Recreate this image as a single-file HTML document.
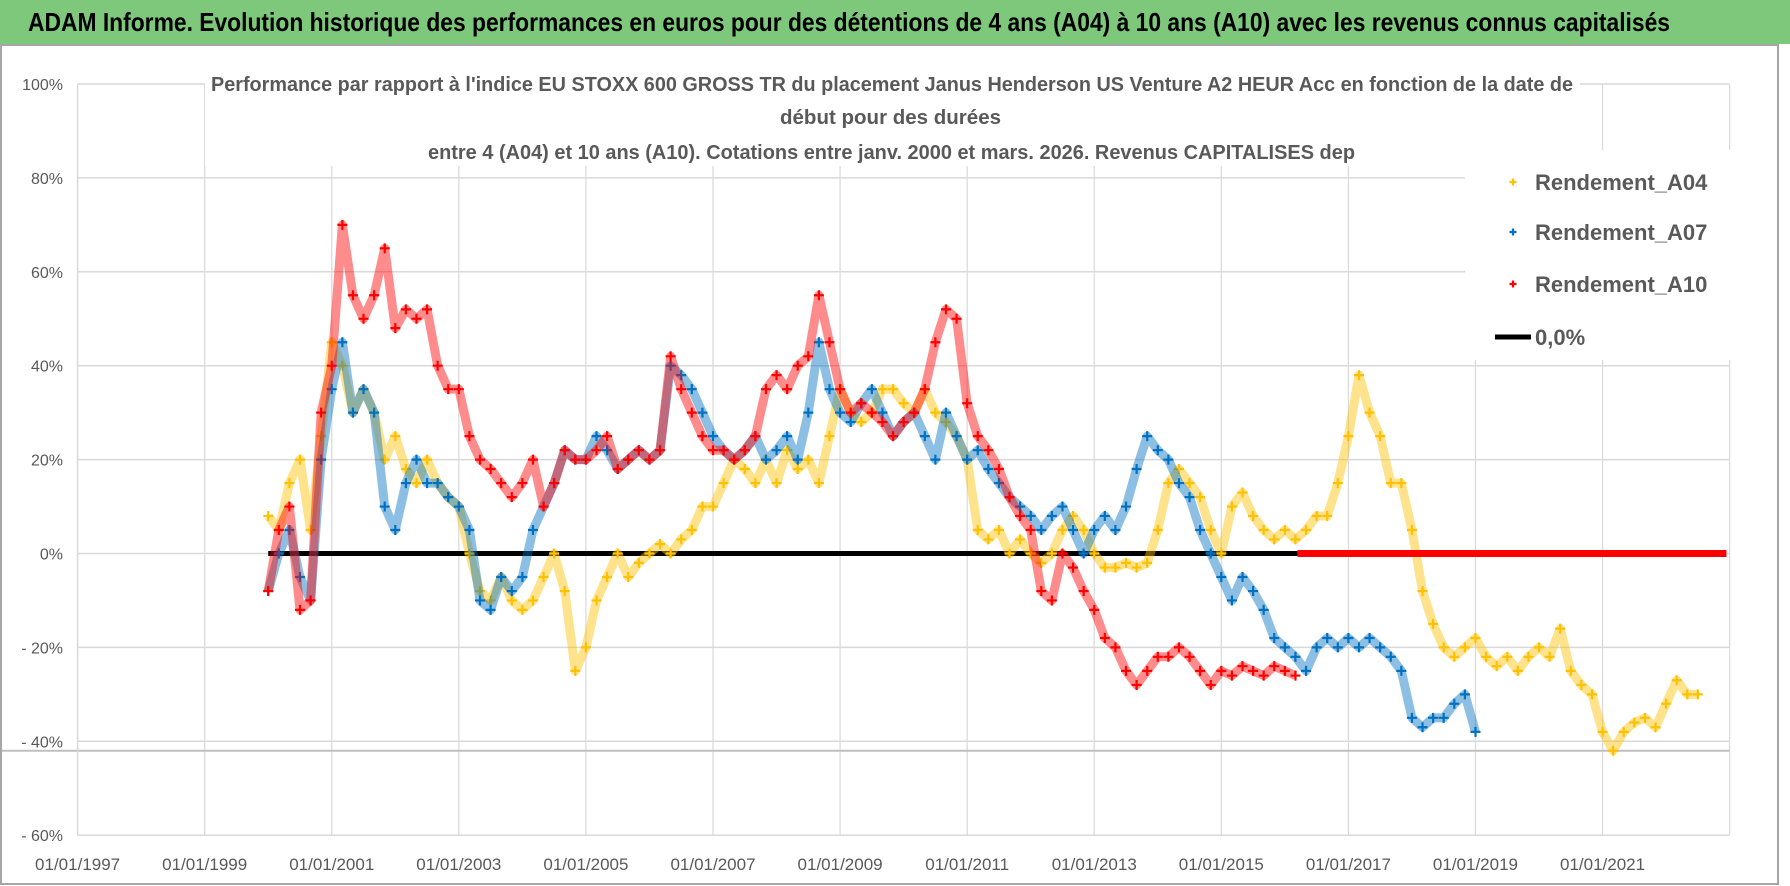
<!DOCTYPE html>
<html><head><meta charset="utf-8"><style>
html,body{margin:0;padding:0;background:#fff;}
svg{display:block;font-family:"Liberation Sans Narrow","Liberation Sans",sans-serif;}
</style></head><body>
<svg id="chart" width="1790" height="886" viewBox="0 0 1790 886" xmlns="http://www.w3.org/2000/svg">
<rect x="0" y="0" width="1790" height="886" fill="#fff"/>
<rect x="0" y="0" width="1790" height="44" fill="#7ec87c"/>
<text x="28" y="31" font-size="26" font-weight="bold" fill="#000" textLength="1642" lengthAdjust="spacingAndGlyphs">ADAM Informe. Evolution historique des performances en euros pour des détentions de 4 ans (A04) à 10 ans (A10) avec les revenus connus capitalisés</text>
<rect x="1" y="45" width="1777" height="839" fill="none" stroke="#a6a6a6" stroke-width="2"/>
<g id="grid"></g>
<g id="series"></g>
<g id="axes"></g>
<rect x="205" y="70" width="1375" height="96" fill="#fff"/>
<g fill="#595959" font-weight="bold" font-size="20">
<text x="211" y="91" textLength="1362" lengthAdjust="spacingAndGlyphs">Performance par rapport à l'indice EU STOXX 600 GROSS TR  du placement Janus Henderson US Venture A2 HEUR Acc en fonction de la date de</text>
<text x="780" y="124" textLength="221" lengthAdjust="spacingAndGlyphs">début pour des durées</text>
<text x="428" y="159" textLength="927" lengthAdjust="spacingAndGlyphs">entre 4 (A04) et 10 ans (A10). Cotations entre janv. 2000 et mars. 2026. Revenus CAPITALISES dep</text>
</g>
<rect x="1465" y="150" width="280" height="210" fill="#fff"/>
<g id="legend" font-size="22" font-weight="bold" fill="#595959"></g>
</svg>
<script>
const years = [1997,1999,2001,2003,2005,2007,2009,2011,2013,2015,2017,2019,2021];
const yTicks = [100,80,60,40,20,0,-20,-40,-60];
const yTickLabels = ["100%","80%","60%","40%","20%","0%","- 20%","- 40%","- 60%"];
const startA04 = 2000.0, startA07 = 2000.0, startA10 = 2000.0;
const step = 1/6;
const valuesA04 = [8,5,15,20,5,25, 45,40,30,35,30,20, 25,18,15,20,15,12, 10,0,-8,-10,-5,-10, -12,-10,-5,0,-8,-25, -20,-10,-5,0,-5,-2, 0,2,0,3,5,10, 10,15,20,18,15,20, 15,22,18,20,15,25, 35,30,28,30,35,35, 32,30,35,30,28,25, 20,5,3,5,0,3, 0,-2,0,5,8,5, 0,-3,-3,-2,-3,-2, 5,15,18,15,12,5, 0,10,13,8,5,3, 5,3,5,8,8,15, 25,38,30,25,15,15, 5,-8,-15,-20,-22,-20, -18,-22,-24,-22,-25,-22, -20,-22,-16,-25,-28,-30, -38,-42,-38,-36,-35,-37, -32,-27,-30,-30];
const valuesA07 = [-8,0,5,-5,-10,20, 35,45,30,35,30,10, 5,15,20,15,15,12, 10,5,-10,-12,-5,-8, -5,5,10,15,22,20, 20,25,22,18,20,22, 20,22,40,38,35,30, 25,22,20,22,25,20, 22,25,20,30,45,35, 30,28,32,35,30,25, 28,30,25,20,30,25, 20,22,18,15,12,10, 8,5,8,10,5,0, 5,8,5,10,18,25, 22,20,15,12,5,0, -5,-10,-5,-8,-12,-18, -20,-22,-25,-20,-18,-20, -18,-20,-18,-20,-22,-25, -35,-37,-35,-35,-32,-30, -38];
const valuesA10 = [-8,5,10,-12,-10,30, 40,70,55,50,55,65, 48,52,50,52,40,35, 35,25,20,18,15,12, 15,20,10,15,22,20, 20,22,25,18,20,22, 20,22,42,35,30,25, 22,22,20,22,25,35, 38,35,40,42,55,45, 35,30,32,30,28,25, 28,30,35,45,52,50, 32,25,22,18,12,8, 5,-8,-10,0,-3,-8, -12,-18,-20,-25,-28,-25, -22,-22,-20,-22,-25,-28, -25,-26,-24,-25,-26,-24, -25,-26];
const zeroLineRange = [2000.0, 2016.2];
const redZeroRange = [2016.2, 2022.95];
const legendLabels = ["Rendement_A04","Rendement_A07","Rendement_A10","0,0%"];

const X0=77.6, PX_PER_YEAR=63.54, Y0=553.5, PX_PER_PCT=93.9/20;
function xs(yr){return X0+(yr-1997)*PX_PER_YEAR;}
function ys(v){return Y0-v*PX_PER_PCT;}
const NS="http://www.w3.org/2000/svg";
function mk(tag,attrs,parent){const e=document.createElementNS(NS,tag);for(const k in attrs)e.setAttribute(k,attrs[k]);parent.appendChild(e);return e;}
const grid=document.getElementById('grid'), axes=document.getElementById('axes'), series=document.getElementById('series'), legend=document.getElementById('legend');
const xRight=xs(2023);
yTicks.forEach((t,i)=>{
  const l=mk('line',{x1:X0,x2:xRight,y1:ys(t),y2:ys(t),stroke:'#d9d9d9','stroke-width':1.5},grid);
  
  
  const tx=mk('text',{x:63,y:ys(t)+6,'text-anchor':'end','font-size':16,fill:'#595959'},axes);
  tx.textContent=yTickLabels[i];
  
  
});
years.concat([2023]).forEach(yr=>{
  const l=mk('line',{x1:xs(yr),x2:xs(yr),y1:ys(100),y2:ys(-60),stroke:'#d9d9d9','stroke-width':1.2},grid);
  
  
});
years.forEach(yr=>{
  const tx=mk('text',{x:xs(yr),y:870,'text-anchor':'middle','font-size':17,fill:'#595959'},axes);
  tx.textContent='01/01/'+yr;
  
  
});
const extra=mk('line',{x1:2,x2:xRight,y1:ys(-42),y2:ys(-42),stroke:'#bfbfbf','stroke-width':2},grid);


const axl=mk('line',{x1:X0,x2:X0,y1:ys(100),y2:ys(-60),stroke:'#d9d9d9','stroke-width':1.5},grid);



function plus(g,x,y,c,s){mk('path',{d:`M${x-s} ${y}H${x+s}M${x} ${y-s}V${y+s}`,stroke:c,'stroke-width':2.2},g);}
function drawSeries(vals,start,color,name){
  const g=mk('g',{},series);
  
  
  const pts=vals.map((v,i)=>[xs(start+i*step),ys(v)]);
  mk('polyline',{points:pts.map(p=>p.join(',')).join(' '),fill:'none',stroke:color,'stroke-width':9,'stroke-opacity':0.45,'stroke-linejoin':'round'},g);
  pts.forEach(p=>plus(g,p[0],p[1],color,5));
}
const zl=mk('line',{x1:xs(zeroLineRange[0]),x2:xs(zeroLineRange[1]),y1:Y0,y2:Y0,stroke:'#000','stroke-width':5},series);


drawSeries(valuesA04,startA04,'#ffc000','series-a04');
drawSeries(valuesA07,startA07,'#0070c0','series-a07');
drawSeries(valuesA10,startA10,'#ff0000','series-a10');
const rz=mk('line',{x1:xs(redZeroRange[0]),x2:xs(redZeroRange[1]),y1:Y0,y2:Y0,stroke:'#ff0000','stroke-width':7},series);



const legColors=['#ffc000','#0070c0','#ff0000','#000'];
const legY=[182,232,284,337];
legendLabels.forEach((lab,i)=>{
  const g=mk('g',{},legend);
  
  
  if(i<3) plus(g,1513,legY[i],legColors[i],3.5);
  else mk('line',{x1:1495,x2:1531,y1:legY[i],y2:legY[i],stroke:'#000','stroke-width':5},g);
  const t=mk('text',{x:1535,y:legY[i]+8},g);
  t.textContent=lab;
});
</script>
</body></html>
